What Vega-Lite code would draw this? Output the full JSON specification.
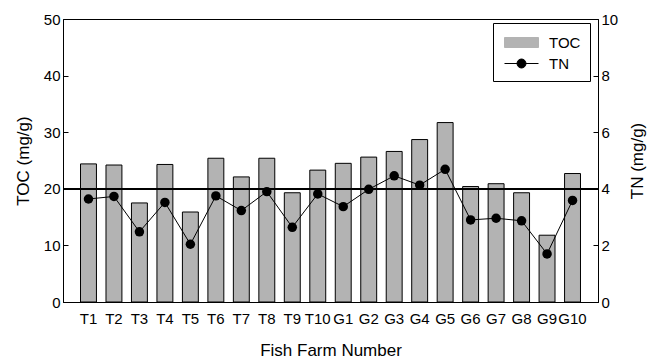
{
  "$schema": "https://vega.github.io/schema/vega-lite/v6.json",
  "width": 535,
  "height": 283,
  "autosize": {"type": "none"},
  "padding": {"left": 63, "top": 19, "right": 59, "bottom": 58},
  "background": "white",
  "config": {
    "font": "Liberation Sans",
    "view": {"stroke": "black", "strokeWidth": 1},
    "axis": {
      "domainColor": "black",
      "tickColor": "black",
      "labelColor": "black",
      "titleColor": "black",
      "labelFont": "Liberation Sans",
      "titleFont": "Liberation Sans",
      "labelFontSize": 15,
      "titleFontSize": 17,
      "titleFontWeight": "normal",
      "grid": false
    },
    "legend": {
      "labelFont": "Liberation Sans",
      "labelFontSize": 15,
      "labelColor": "black"
    }
  },
  "data": {
    "values": [
      {"Farm": "T1", "TOC": 24.4, "TN": 3.64},
      {"Farm": "T2", "TOC": 24.2, "TN": 3.73},
      {"Farm": "T3", "TOC": 17.5, "TN": 2.48},
      {"Farm": "T4", "TOC": 24.3, "TN": 3.52},
      {"Farm": "T5", "TOC": 15.9, "TN": 2.04},
      {"Farm": "T6", "TOC": 25.4, "TN": 3.75},
      {"Farm": "T7", "TOC": 22.1, "TN": 3.23},
      {"Farm": "T8", "TOC": 25.4, "TN": 3.9},
      {"Farm": "T9", "TOC": 19.3, "TN": 2.64},
      {"Farm": "T10", "TOC": 23.3, "TN": 3.82},
      {"Farm": "G1", "TOC": 24.5, "TN": 3.37},
      {"Farm": "G2", "TOC": 25.6, "TN": 3.98},
      {"Farm": "G3", "TOC": 26.6, "TN": 4.46},
      {"Farm": "G4", "TOC": 28.7, "TN": 4.13},
      {"Farm": "G5", "TOC": 31.7, "TN": 4.69},
      {"Farm": "G6", "TOC": 20.4, "TN": 2.9},
      {"Farm": "G7", "TOC": 20.9, "TN": 2.96},
      {"Farm": "G8", "TOC": 19.3, "TN": 2.87},
      {"Farm": "G9", "TOC": 11.8, "TN": 1.7},
      {"Farm": "G10", "TOC": 22.7, "TN": 3.59}
    ]
  },
  "layer": [
    {
      "mark": {"type": "bar", "stroke": "black", "strokeWidth": 1},
      "encoding": {
        "x": {
          "field": "Farm",
          "type": "nominal",
          "sort": null,
          "scale": {"paddingInner": 0.375, "paddingOuter": 0.6875},
          "axis": {
            "title": "Fish Farm Number",
            "labelAngle": 0,
            "ticks": false,
            "labelPadding": 9,
            "labelOverlap": false,
            "titlePadding": 16
          }
        },
        "y": {
          "field": "TOC",
          "type": "quantitative",
          "scale": {"domain": [0, 50], "nice": false},
          "axis": {
            "title": "TOC (mg/g)",
            "values": [0, 10, 20, 30, 40, 50],
            "tickSize": -5,
            "labelPadding": 8,
            "titlePadding": 11
          }
        },
        "color": {
          "datum": "TOC",
          "type": "nominal",
          "scale": {"domain": ["TOC", "TN"], "range": ["#b3b3b3", "black"]},
          "legend": {
            "title": null,
            "orient": "none",
            "legendX": 430,
            "legendY": 4,
            "padding": 9,
            "strokeColor": "black",
            "fillColor": "white",
            "symbolSize": 400,
            "symbolOffset": 9,
            "labelOffset": 17,
            "rowPadding": 2,
            "symbolStrokeWidth": 1,
            "symbolOpacity": 1
          }
        }
      }
    },
    {
      "layer": [
        {
          "mark": {"type": "rule", "color": "black", "strokeWidth": 1.5},
          "encoding": {"y": {"datum": 4, "type": "quantitative"}}
        },
        {
          "mark": {"type": "line", "color": "black", "strokeWidth": 1},
          "encoding": {
            "x": {"field": "Farm", "type": "nominal", "sort": null},
            "y": {
              "field": "TN",
              "type": "quantitative",
              "scale": {"domain": [0, 10], "nice": false},
              "axis": {
                "orient": "right",
                "title": "TN (mg/g)",
                "values": [0, 2, 4, 6, 8, 10],
                "tickSize": -5,
                "labelPadding": 8,
                "titleAngle": 270,
                "titleBaseline": "top",
                "titlePadding": 12
              }
            },
            "color": {"datum": "TN", "type": "nominal"}
          }
        },
        {
          "mark": {"type": "point", "filled": true, "size": 90, "color": "black", "opacity": 1},
          "encoding": {
            "x": {"field": "Farm", "type": "nominal", "sort": null},
            "y": {"field": "TN", "type": "quantitative"}
          }
        },
        {
          "mark": {"type": "point", "filled": true, "opacity": 0},
          "encoding": {
            "x": {"field": "Farm", "type": "nominal", "sort": null},
            "y": {"field": "TN", "type": "quantitative"},
            "color": {"datum": "TN", "type": "nominal"},
            "shape": {
              "datum": "TN",
              "type": "nominal",
              "scale": {
                "domain": ["TOC", "TN"],
                "range": ["M-1.7,-0.5H1.7V0.5H-1.7Z", "M-1.7,0H1.7M0.45,0A0.45,0.45,0,1,1,-0.45,0A0.45,0.45,0,1,1,0.45,0Z"]
              },
              "legend": {"title": null}
            }
          }
        }
      ]
    }
  ],
  "resolve": {"scale": {"y": "independent"}}
}
